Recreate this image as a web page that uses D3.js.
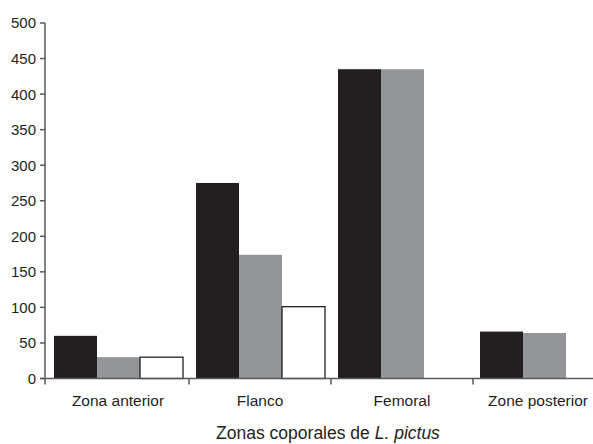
<!DOCTYPE html>
<html>
<head>
<meta charset="utf-8">
<script src="https://cdn.jsdelivr.net/npm/d3@7"></script>
<style>
  body { margin: 0; background: #fff; }
  text { font-family: "Liberation Sans", Arial, Helvetica, sans-serif; fill: #231f20; }
</style>
</head>
<body>
<svg id="chart" width="593" height="444"></svg>
<script>
// data
var categories = ["Zona anterior", "Flanco", "Femoral", "Zone posterior"];
var series = ["s1", "s2", "s3"];
var seriesColors = ["#231f20", "#939598", "#ffffff"];
var values = [
  [60, 30, 30],
  [275, 174, 101],
  [435, 435, 0],
  [66, 64, 0]
];
var yTicks = [0, 50, 100, 150, 200, 250, 300, 350, 400, 450, 500];

var svg = d3.select("#chart");
// plot area (window.top is reserved, so use plot* names)
var plotLeft = 45, plotTop = 23, plotBottom = 378.5, plotRight = 593;

var x0 = d3.scaleBand().domain(categories).range([47, 615]);
var x1 = d3.scaleBand().domain(series).range([7, x0.bandwidth() - 6]);
var y = d3.scaleLinear().domain([0, 500]).range([plotBottom, plotTop]);

var axisColor = "#58595b";

// y axis
var ya = svg.append("g");
ya.append("line")
  .attr("x1", plotLeft).attr("x2", plotLeft)
  .attr("y1", plotTop).attr("y2", plotBottom + 6)
  .attr("stroke", axisColor).attr("stroke-width", 1.5);
ya.selectAll("line.tick").data(yTicks).enter().append("line")
  .attr("class", "tick")
  .attr("x1", plotLeft - 5).attr("x2", plotLeft)
  .attr("y1", function(d) { return y(d); })
  .attr("y2", function(d) { return y(d); })
  .attr("stroke", axisColor).attr("stroke-width", 1.5);
ya.selectAll("text").data(yTicks).enter().append("text")
  .attr("x", 36)
  .attr("y", function(d) { return y(d); })
  .attr("dy", "0.36em")
  .attr("text-anchor", "end")
  .style("font-size", "15px")
  .text(function(d) { return d; });

// bars
var groups = svg.append("g").selectAll("g").data(values).enter().append("g")
  .attr("transform", function(d, i) { return "translate(" + x0(categories[i]) + ",0)"; });
groups.selectAll("rect")
  .data(function(d) {
    return d.map(function(v, j) { return {k: series[j], v: v, c: seriesColors[j]}; })
      .filter(function(e) { return e.v > 0; });
  })
  .enter().append("rect")
  .attr("x", function(d) { return x1(d.k); })
  .attr("width", x1.bandwidth())
  .attr("y", function(d) { return y(d.v); })
  .attr("height", function(d) { return plotBottom - y(d.v); })
  .attr("fill", function(d) { return d.c; })
  .attr("stroke", function(d) { return d.c === "#ffffff" ? "#231f20" : "none"; })
  .attr("stroke-width", 1.3);

// x axis
var xa = svg.append("g");
xa.append("line")
  .attr("x1", plotLeft - 5).attr("x2", plotRight)
  .attr("y1", plotBottom).attr("y2", plotBottom)
  .attr("stroke", axisColor).attr("stroke-width", 1.5);
xa.selectAll("line.tick").data(categories.slice(1)).enter().append("line")
  .attr("class", "tick")
  .attr("x1", function(d) { return x0(d); })
  .attr("x2", function(d) { return x0(d); })
  .attr("y1", plotBottom).attr("y2", plotBottom + 6)
  .attr("stroke", axisColor).attr("stroke-width", 1.5);
xa.selectAll("text").data(categories).enter().append("text")
  .attr("y", 406)
  .attr("text-anchor", "middle")
  .style("font-size", "15.5px")
  .text(function(d) { return d; })
  .attr("x", function(d) {
    var cx = x0(d) + x0.bandwidth() / 2;
    var w = this.getComputedTextLength();
    return Math.min(cx, 588 - w / 2);
  });

// axis title
var title = svg.append("text")
  .attr("x", 328).attr("y", 439)
  .attr("text-anchor", "middle")
  .style("font-size", "17.5px");
title.append("tspan").text("Zonas coporales de ");
title.append("tspan").style("font-style", "italic").text("L. pictus");
</script>
</body>
</html>
